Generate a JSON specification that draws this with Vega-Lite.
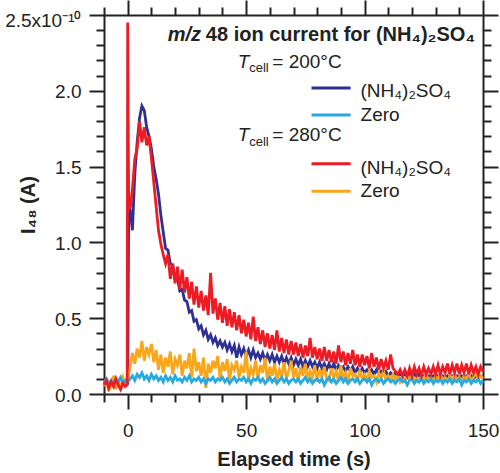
{
"$schema": "https://vega.github.io/schema/vega-lite/v6.json",
"width": 379, "height": 379,
"autosize": {"type": "none"},
"padding": {"left": 104, "top": 15, "right": 17, "bottom": 79},
"config": {"view": {"stroke": null}, "font": "Liberation Sans", "mark": {"invalid": "filter"}},
"datasets": {"main": [
{"t":-10,"a":0.06,"b":0.08,"c":0.06,"d":0.05},
{"t":-9,"a":0.08,"b":0.10,"c":0.09,"d":0.10},
{"t":-8,"a":0.05,"b":0.07,"c":0.04,"d":0.02},
{"t":-7,"a":0.07,"b":0.09,"c":0.08,"d":0.07},
{"t":-6,"a":0.09,"b":0.06,"c":0.05,"d":0.12},
{"t":-5,"a":0.06,"b":0.10,"c":0.10,"d":0.03},
{"t":-4,"a":0.08,"b":0.08,"c":0.06,"d":0.08},
{"t":-3,"a":0.05,"b":0.11,"c":0.03,"d":0.04},
{"t":-2,"a":0.07,"b":0.07,"c":0.07,"d":0.11},
{"t":-1,"a":0.06,"b":0.09,"c":0.05,"d":0.06},
{"t":-0.2,"c":0.06},
{"t":0,"a":0.07,"b":0.08,"c":2.45,"d":0.09},
{"t":0.4,"a":1.15,"c":1.28},
{"t":1,"a":1.22,"b":0.10,"c":1.22,"d":0.18},
{"t":2,"a":1.08,"b":0.12,"c":1.35,"d":0.27},
{"t":3,"a":1.45,"b":0.09,"c":1.55,"d":0.20},
{"t":4,"a":1.66,"b":0.13,"c":1.62,"d":0.30},
{"t":5,"a":1.82,"b":0.11,"c":1.80,"d":0.24},
{"t":6,"a":1.90,"b":0.14,"c":1.66,"d":0.35},
{"t":7,"a":1.87,"b":0.10,"c":1.76,"d":0.22},
{"t":8,"a":1.76,"b":0.12,"c":1.64,"d":0.31},
{"t":9,"a":1.70,"b":0.09,"c":1.70,"d":0.26},
{"t":10,"a":1.62,"b":0.13,"c":1.56,"d":0.33},
{"t":11,"a":1.50,"b":0.10,"c":1.40,"d":0.21},
{"t":12,"a":1.42,"b":0.12,"c":1.24,"d":0.29},
{"t":13,"a":1.32,"b":0.09,"c":1.08,"d":0.16},
{"t":14,"a":1.18,"b":0.11,"c":0.99,"d":0.26},
{"t":15,"a":1.07,"b":0.08,"c":0.92,"d":0.14},
{"t":16,"a":0.96,"b":0.12,"c":0.86,"d":0.24},
{"t":17,"a":0.95,"b":0.09,"c":0.92,"d":0.18},
{"t":18,"a":0.86,"b":0.11,"c":0.76,"d":0.28},
{"t":19,"a":0.85,"b":0.08,"c":0.86,"d":0.13},
{"t":20,"a":0.76,"b":0.12,"c":0.73,"d":0.23},
{"t":21,"a":0.76,"b":0.09,"c":0.84,"d":0.19},
{"t":22,"a":0.68,"b":0.10,"c":0.69,"d":0.26},
{"t":23,"a":0.69,"b":0.08,"c":0.82,"d":0.12},
{"t":24,"a":0.62,"b":0.11,"c":0.67,"d":0.22},
{"t":25,"a":0.61,"b":0.09,"c":0.77,"d":0.17},
{"t":26,"a":0.54,"b":0.12,"c":0.63,"d":0.27},
{"t":27,"a":0.55,"b":0.08,"c":0.74,"d":0.11},
{"t":28,"a":0.48,"b":0.10,"c":0.59,"d":0.30},
{"t":29,"a":0.49,"b":0.09,"c":0.71,"d":0.15},
{"t":30,"a":0.43,"b":0.11,"c":0.57,"d":0.21},
{"t":31,"a":0.45,"b":0.08,"c":0.68,"d":0.12},
{"t":32,"a":0.39,"b":0.10,"c":0.55,"d":0.24},
{"t":33,"a":0.42,"b":0.07,"c":0.65,"d":0.04},
{"t":34,"a":0.36,"b":0.10,"c":0.52,"d":0.20},
{"t":35,"a":0.39,"b":0.09,"c":0.80,"d":0.14},
{"t":36,"a":0.34,"b":0.11,"c":0.53,"d":0.22},
{"t":37,"a":0.37,"b":0.08,"c":0.63,"d":0.17},
{"t":38,"a":0.32,"b":0.10,"c":0.49,"d":0.25},
{"t":39,"a":0.35,"b":0.09,"c":0.60,"d":0.10},
{"t":40,"a":0.31,"b":0.11,"c":0.47,"d":0.21},
{"t":41,"a":0.34,"b":0.08,"c":0.58,"d":0.15},
{"t":42,"a":0.29,"b":0.10,"c":0.45,"d":0.23},
{"t":43,"a":0.33,"b":0.07,"c":0.56,"d":0.09},
{"t":44,"a":0.28,"b":0.09,"c":0.44,"d":0.19},
{"t":45,"a":0.32,"b":0.11,"c":0.54,"d":0.16},
{"t":46,"a":0.24,"b":0.08,"c":0.42,"d":0.22},
{"t":47,"a":0.31,"b":0.10,"c":0.52,"d":0.11},
{"t":48,"a":0.26,"b":0.09,"c":0.40,"d":0.18},
{"t":49,"a":0.30,"b":0.11,"c":0.49,"d":0.14},
{"t":50,"a":0.25,"b":0.08,"c":0.38,"d":0.28},
{"t":51,"a":0.29,"b":0.10,"c":0.47,"d":0.09},
{"t":52,"a":0.24,"b":0.07,"c":0.36,"d":0.17},
{"t":53,"a":0.29,"b":0.10,"c":0.51,"d":0.13},
{"t":54,"a":0.24,"b":0.09,"c":0.35,"d":0.22},
{"t":55,"a":0.27,"b":0.11,"c":0.44,"d":0.10},
{"t":56,"a":0.23,"b":0.08,"c":0.33,"d":0.19},
{"t":57,"a":0.27,"b":0.10,"c":0.42,"d":0.14},
{"t":58,"a":0.22,"b":0.07,"c":0.31,"d":0.24},
{"t":59,"a":0.26,"b":0.09,"c":0.40,"d":0.08},
{"t":60,"a":0.22,"b":0.11,"c":0.30,"d":0.18},
{"t":61,"a":0.26,"b":0.08,"c":0.39,"d":0.12},
{"t":62,"a":0.21,"b":0.10,"c":0.29,"d":0.20},
{"t":63,"a":0.25,"b":0.07,"c":0.42,"d":0.09},
{"t":64,"a":0.21,"b":0.09,"c":0.28,"d":0.16},
{"t":65,"a":0.25,"b":0.11,"c":0.37,"d":0.12},
{"t":66,"a":0.20,"b":0.08,"c":0.27,"d":0.21},
{"t":67,"a":0.24,"b":0.10,"c":0.36,"d":0.10},
{"t":68,"a":0.20,"b":0.07,"c":0.26,"d":0.15},
{"t":69,"a":0.24,"b":0.09,"c":0.35,"d":0.22},
{"t":70,"a":0.19,"b":0.10,"c":0.26,"d":0.11},
{"t":71,"a":0.23,"b":0.08,"c":0.34,"d":0.17},
{"t":72,"a":0.19,"b":0.10,"c":0.25,"d":0.08},
{"t":73,"a":0.23,"b":0.07,"c":0.33,"d":0.18},
{"t":74,"a":0.18,"b":0.09,"c":0.24,"d":0.12},
{"t":75,"a":0.22,"b":0.11,"c":0.32,"d":0.20},
{"t":76,"a":0.18,"b":0.08,"c":0.25,"d":0.10},
{"t":77,"a":0.22,"b":0.10,"c":0.37,"d":0.15},
{"t":78,"a":0.18,"b":0.07,"c":0.24,"d":0.11},
{"t":79,"a":0.21,"b":0.09,"c":0.31,"d":0.19},
{"t":80,"a":0.17,"b":0.10,"c":0.23,"d":0.08},
{"t":81,"a":0.21,"b":0.08,"c":0.30,"d":0.16},
{"t":82,"a":0.17,"b":0.10,"c":0.22,"d":0.11},
{"t":83,"a":0.20,"b":0.06,"c":0.31,"d":0.18},
{"t":84,"a":0.16,"b":0.09,"c":0.22,"d":0.10},
{"t":85,"a":0.20,"b":0.11,"c":0.29,"d":0.09},
{"t":86,"a":0.16,"b":0.08,"c":0.21,"d":0.17},
{"t":87,"a":0.20,"b":0.10,"c":0.28,"d":0.11},
{"t":88,"a":0.16,"b":0.07,"c":0.20,"d":0.15},
{"t":89,"a":0.19,"b":0.09,"c":0.32,"d":0.08},
{"t":90,"a":0.16,"b":0.11,"c":0.21,"d":0.19},
{"t":91,"a":0.18,"b":0.08,"c":0.28,"d":0.10},
{"t":92,"a":0.15,"b":0.10,"c":0.19,"d":0.14},
{"t":93,"a":0.18,"b":0.07,"c":0.27,"d":0.07},
{"t":94,"a":0.15,"b":0.09,"c":0.20,"d":0.17},
{"t":95,"a":0.18,"b":0.10,"c":0.29,"d":0.12},
{"t":96,"a":0.14,"b":0.08,"c":0.19,"d":0.13},
{"t":97,"a":0.17,"b":0.10,"c":0.26,"d":0.08},
{"t":98,"a":0.14,"b":0.07,"c":0.18,"d":0.16},
{"t":99,"a":0.17,"b":0.09,"c":0.26,"d":0.10},
{"t":100,"a":0.14,"b":0.10,"c":0.19,"d":0.13},
{"t":101,"a":0.16,"b":0.08,"c":0.25,"d":0.09},
{"t":102,"a":0.14,"b":0.10,"c":0.17,"d":0.15},
{"t":103,"a":0.16,"b":0.06,"c":0.27,"d":0.11},
{"t":104,"a":0.13,"b":0.09,"c":0.18,"d":0.12},
{"t":105,"a":0.16,"b":0.10,"c":0.24,"d":0.08},
{"t":106,"a":0.13,"b":0.08,"c":0.16,"d":0.14},
{"t":107,"a":0.15,"b":0.10,"c":0.23,"d":0.11},
{"t":108,"a":0.13,"b":0.07,"c":0.17,"d":0.15},
{"t":109,"a":0.15,"b":0.09,"c":0.22,"d":0.09},
{"t":110,"a":0.12,"b":0.10,"c":0.16,"d":0.12},
{"t":111,"a":0.14,"b":0.08,"c":0.26,"d":0.09},
{"t":112,"a":0.12,"b":0.09,"c":0.17,"d":0.13},
{"t":113,"a":0.14,"b":0.07,"c":0.15,"d":0.10},
{"t":114,"a":0.12,"b":0.09,"c":0.13,"d":0.12},
{"t":115,"a":0.13,"b":0.10,"c":0.16,"d":0.08},
{"t":116,"a":0.12,"b":0.08,"c":0.12,"d":0.11},
{"t":117,"a":0.13,"b":0.09,"c":0.16,"d":0.09},
{"t":118,"a":0.11,"b":0.06,"c":0.12,"d":0.12},
{"t":119,"a":0.13,"b":0.09,"c":0.17,"d":0.10},
{"t":120,"a":0.11,"b":0.10,"c":0.12,"d":0.13},
{"t":121,"a":0.13,"b":0.07,"c":0.18,"d":0.09},
{"t":122,"a":0.11,"b":0.09,"c":0.13,"d":0.11},
{"t":123,"a":0.13,"b":0.08,"c":0.17,"d":0.08},
{"t":124,"a":0.11,"b":0.10,"c":0.12,"d":0.12},
{"t":125,"a":0.12,"b":0.07,"c":0.18,"d":0.10},
{"t":126,"a":0.11,"b":0.09,"c":0.13,"d":0.13},
{"t":127,"a":0.12,"b":0.08,"c":0.17,"d":0.09},
{"t":128,"a":0.11,"b":0.10,"c":0.13,"d":0.11},
{"t":129,"a":0.12,"b":0.07,"c":0.18,"d":0.08},
{"t":130,"a":0.10,"b":0.09,"c":0.13,"d":0.12},
{"t":131,"a":0.12,"b":0.08,"c":0.19,"d":0.10},
{"t":132,"a":0.11,"b":0.10,"c":0.13,"d":0.13},
{"t":133,"a":0.12,"b":0.07,"c":0.18,"d":0.09},
{"t":134,"a":0.10,"b":0.09,"c":0.14,"d":0.11},
{"t":135,"a":0.12,"b":0.08,"c":0.20,"d":0.08},
{"t":136,"a":0.11,"b":0.10,"c":0.13,"d":0.12},
{"t":137,"a":0.12,"b":0.07,"c":0.19,"d":0.10},
{"t":138,"a":0.10,"b":0.09,"c":0.14,"d":0.13},
{"t":139,"a":0.12,"b":0.08,"c":0.20,"d":0.09},
{"t":140,"a":0.11,"b":0.10,"c":0.13,"d":0.11},
{"t":141,"a":0.12,"b":0.06,"c":0.19,"d":0.08},
{"t":142,"a":0.10,"b":0.09,"c":0.14,"d":0.12},
{"t":143,"a":0.12,"b":0.08,"c":0.20,"d":0.10},
{"t":144,"a":0.11,"b":0.10,"c":0.13,"d":0.13},
{"t":145,"a":0.12,"b":0.07,"c":0.19,"d":0.09},
{"t":146,"a":0.10,"b":0.09,"c":0.14,"d":0.11},
{"t":147,"a":0.12,"b":0.08,"c":0.18,"d":0.14},
{"t":148,"a":0.11,"b":0.10,"c":0.13,"d":0.10},
{"t":149,"a":0.12,"b":0.07,"c":0.18,"d":0.12},
{"t":150,"a":0.11,"b":0.09,"c":0.15,"d":0.10}
]},
"data": {"name": "main"},
"layer": [
 {"layer": [
  {"mark": {"type": "line", "color": "#2e3192", "strokeWidth": 2.8, "invalid": "filter"},
   "encoding": {
    "x": {"field": "t", "type": "quantitative", "scale": {"domain": [-10, 150], "nice": false, "zero": false},
     "axis": {"values": [-10,0,10,20,30,40,50,60,70,80,90,100,110,120,130,140,150], "tickCount": 200,
      "labelExpr": "datum.value % 50 === 0 ? format(datum.value, 'd') : ''",
      "tickSize": {"condition": {"test": "datum.value % 50 === 0", "value": 15}, "value": 8},
      "tickWidth": 2, "tickColor": "#222", "domainColor": "#222", "domainWidth": 2,
      "labelFontSize": 19, "labelPadding": 12, "labelColor": "#222", "labelFlush": false, "labelOverlap": false, "labelBound": false,
      "grid": false, "title": "Elapsed time (s)", "titleFontSize": 20, "titleFontWeight": "bold", "titleColor": "#222",
      "titleBaseline": "alphabetic", "titleY": 71}},
    "y": {"field": "a", "type": "quantitative", "scale": {"domain": [0, 2.5], "nice": false, "zero": false},
     "axis": {"values": [0,0.1,0.2,0.3,0.4,0.5,0.6,0.7,0.8,0.9,1,1.1,1.2,1.3,1.4,1.5,1.6,1.7,1.8,1.9,2,2.1,2.2,2.3,2.4,2.5], "tickCount": 200,
      "labelExpr": "round(datum.value*10) % 5 === 0 ? (datum.value > 2.45 ? '2.5x10⁻¹⁰' : format(datum.value, '.1f')) : ''",
      "tickSize": {"condition": {"test": "round(datum.value*10) % 5 === 0", "value": 15}, "value": 8},
      "labelOffset": {"condition": {"test": "datum.value > 2.45", "value": 5}, "value": 1},
      "tickWidth": 2, "tickColor": "#222", "domainColor": "#222", "domainWidth": 2,
      "labelFontSize": 19, "labelPadding": 8, "labelColor": "#222", "labelOverlap": false, "labelBound": false, "labelFlush": false,
      "grid": false, "title": "I₄₈ (A)", "titleFontSize": 20, "titleFontWeight": "bold", "titleColor": "#222",
      "titleBaseline": "middle", "titleX": -76, "titleAngle": 270}}}},
  {"mark": {"type": "line", "color": "#faa61a", "strokeWidth": 2.8, "invalid": "filter"},
   "encoding": {"x": {"field": "t", "type": "quantitative"}, "y": {"field": "d", "type": "quantitative"}}},
  {"mark": {"type": "line", "color": "#27aae1", "strokeWidth": 2.8, "invalid": "filter"},
   "encoding": {"x": {"field": "t", "type": "quantitative"}, "y": {"field": "b", "type": "quantitative"}}},
  {"mark": {"type": "line", "color": "#ed1c24", "strokeWidth": 2.8, "invalid": "filter"},
   "encoding": {"x": {"field": "t", "type": "quantitative"}, "y": {"field": "c", "type": "quantitative"}}},
  {"data": {"values": [{"s": "m/z"}]}, "mark": {"type": "text", "align": "left", "baseline": "alphabetic", "fontSize": 20, "fontWeight": "bold", "fontStyle": "italic", "color": "#222"},
   "encoding": {"x": {"datum": 16.9, "type": "quantitative"}, "y": {"datum": 2.329, "type": "quantitative"}, "text": {"field": "s"}}},
  {"data": {"values": [{"s": "48 ion current for (NH₄)₂SO₄"}]}, "mark": {"type": "text", "align": "left", "baseline": "alphabetic", "fontSize": 20, "fontWeight": "bold", "color": "#222"},
   "encoding": {"x": {"datum": 33.0, "type": "quantitative"}, "y": {"datum": 2.329, "type": "quantitative"}, "text": {"field": "s"}}},
  {"data": {"values": [{"s": "T"}]}, "mark": {"type": "text", "align": "left", "baseline": "alphabetic", "fontSize": 19, "fontStyle": "italic", "color": "#222"},
   "encoding": {"x": {"datum": 46.5, "type": "quantitative"}, "y": {"datum": 2.153, "type": "quantitative"}, "text": {"field": "s"}}},
  {"data": {"values": [{"s": "cell"}]}, "mark": {"type": "text", "align": "left", "baseline": "alphabetic", "fontSize": 13, "color": "#222"},
   "encoding": {"x": {"datum": 51.3, "type": "quantitative"}, "y": {"datum": 2.121, "type": "quantitative"}, "text": {"field": "s"}}},
  {"data": {"values": [{"s": "= 200°C"}]}, "mark": {"type": "text", "align": "left", "baseline": "alphabetic", "fontSize": 19, "color": "#222"},
   "encoding": {"x": {"datum": 61.05, "type": "quantitative"}, "y": {"datum": 2.153, "type": "quantitative"}, "text": {"field": "s"}}},
  {"data": {"values": [{"s": "T"}]}, "mark": {"type": "text", "align": "left", "baseline": "alphabetic", "fontSize": 19, "fontStyle": "italic", "color": "#222"},
   "encoding": {"x": {"datum": 46.5, "type": "quantitative"}, "y": {"datum": 1.666, "type": "quantitative"}, "text": {"field": "s"}}},
  {"data": {"values": [{"s": "cell"}]}, "mark": {"type": "text", "align": "left", "baseline": "alphabetic", "fontSize": 13, "color": "#222"},
   "encoding": {"x": {"datum": 51.3, "type": "quantitative"}, "y": {"datum": 1.633, "type": "quantitative"}, "text": {"field": "s"}}},
  {"data": {"values": [{"s": "= 280°C"}]}, "mark": {"type": "text", "align": "left", "baseline": "alphabetic", "fontSize": 19, "color": "#222"},
   "encoding": {"x": {"datum": 61.05, "type": "quantitative"}, "y": {"datum": 1.666, "type": "quantitative"}, "text": {"field": "s"}}},
  {"data": {"values": [{"s": "(NH₄)₂SO₄"}]}, "mark": {"type": "text", "align": "left", "baseline": "alphabetic", "fontSize": 19, "color": "#222"},
   "encoding": {"x": {"datum": 98.3, "type": "quantitative"}, "y": {"datum": 1.956, "type": "quantitative"}, "text": {"field": "s"}}},
  {"data": {"values": [{"s": "Zero"}]}, "mark": {"type": "text", "align": "left", "baseline": "alphabetic", "fontSize": 19, "color": "#222"},
   "encoding": {"x": {"datum": 98.3, "type": "quantitative"}, "y": {"datum": 1.803, "type": "quantitative"}, "text": {"field": "s"}}},
  {"data": {"values": [{"s": "(NH₄)₂SO₄"}]}, "mark": {"type": "text", "align": "left", "baseline": "alphabetic", "fontSize": 19, "color": "#222"},
   "encoding": {"x": {"datum": 98.3, "type": "quantitative"}, "y": {"datum": 1.452, "type": "quantitative"}, "text": {"field": "s"}}},
  {"data": {"values": [{"s": "Zero"}]}, "mark": {"type": "text", "align": "left", "baseline": "alphabetic", "fontSize": 19, "color": "#222"},
   "encoding": {"x": {"datum": 98.3, "type": "quantitative"}, "y": {"datum": 1.298, "type": "quantitative"}, "text": {"field": "s"}}},
  {"data": {"values": [{"s": "k"}]}, "mark": {"type": "rule", "color": "#2e3192", "strokeWidth": 3},
   "encoding": {"x": {"datum": 77.6, "type": "quantitative"}, "x2": {"datum": 94.1}, "y": {"datum": 2.018, "type": "quantitative"}}},
  {"data": {"values": [{"s": "k"}]}, "mark": {"type": "rule", "color": "#27aae1", "strokeWidth": 3},
   "encoding": {"x": {"datum": 77.6, "type": "quantitative"}, "x2": {"datum": 94.1}, "y": {"datum": 1.840, "type": "quantitative"}}},
  {"data": {"values": [{"s": "k"}]}, "mark": {"type": "rule", "color": "#ed1c24", "strokeWidth": 3},
   "encoding": {"x": {"datum": 77.6, "type": "quantitative"}, "x2": {"datum": 94.1}, "y": {"datum": 1.518, "type": "quantitative"}}},
  {"data": {"values": [{"s": "k"}]}, "mark": {"type": "rule", "color": "#faa61a", "strokeWidth": 3},
   "encoding": {"x": {"datum": 77.6, "type": "quantitative"}, "x2": {"datum": 94.1}, "y": {"datum": 1.338, "type": "quantitative"}}}
 ]},
 {"mark": {"type": "line", "strokeOpacity": 0, "invalid": "filter"},
  "encoding": {
   "x": {"field": "t", "type": "quantitative",
    "axis": {"orient": "top", "values": [-10,0,10,20,30,40,50,60,70,80,90,100,110,120,130,140,150], "tickCount": 200, "labels": false, "title": null,
     "tickSize": {"condition": {"test": "datum.value % 50 === 0", "value": 15}, "value": 8},
     "tickWidth": 2, "tickColor": "#222", "domainColor": "#222", "domainWidth": 2, "grid": false}},
   "y": {"field": "a", "type": "quantitative",
    "axis": {"orient": "right", "values": [0,0.1,0.2,0.3,0.4,0.5,0.6,0.7,0.8,0.9,1,1.1,1.2,1.3,1.4,1.5,1.6,1.7,1.8,1.9,2,2.1,2.2,2.3,2.4,2.5], "tickCount": 200, "labels": false, "title": null,
     "tickSize": {"condition": {"test": "round(datum.value*10) % 5 === 0", "value": 15}, "value": 8},
     "tickWidth": 2, "tickColor": "#222", "domainColor": "#222", "domainWidth": 2, "grid": false}}}}
],
"resolve": {"axis": {"x": "independent", "y": "independent"}}
}
